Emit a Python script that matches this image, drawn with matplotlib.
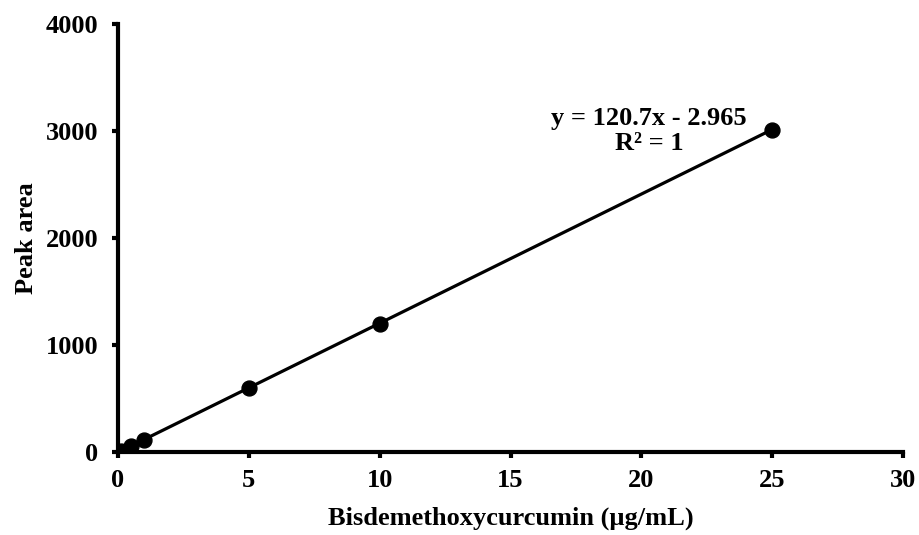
import numpy as np
import matplotlib.pyplot as plt

plt.rcParams['font.family'] = ['Liberation Serif', 'DejaVu Serif']
plt.rcParams['font.weight'] = 'bold'

conc = [0.1, 0.5, 1, 5, 10, 25]          # ug/mL
area = [10, 57, 116, 600, 1195, 3010]    # peak area
slope, intercept = 120.7, -2.965

fig = plt.figure(figsize=(9.19, 5.35), dpi=100)
ax = fig.add_axes([0.1284, 0.155, 0.8542, 0.800])

xf = np.array([min(conc), max(conc)])
ax.plot(xf, slope * xf + intercept, color='black', lw=2.3, zorder=2)
ax.scatter(conc, area, s=115, color='black', zorder=3)

ax.set_xlim(0, 30)
ax.set_ylim(0, 4000)
ax.set_xticks(range(0, 31, 5))
ax.set_yticks(range(0, 4001, 1000))
for side in ['top', 'right']:
    ax.spines[side].set_visible(False)
for side in ['left', 'bottom']:
    ax.spines[side].set_linewidth(3)
ax.tick_params(direction='out', length=4, width=3, labelsize=19)
ax.tick_params(axis='x', pad=8)
ax.tick_params(axis='y', pad=10)

ax.set_xlabel('Bisdemethoxycurcumin (µg/mL)', fontsize=19, fontweight='bold', labelpad=11)
ax.set_ylabel('Peak area', fontsize=19, fontweight='bold', labelpad=6)

ax.text(0.706, 0.755, 'y = 120.7x - 2.965\nR² = 1', transform=fig.transFigure,
        ha='center', va='center', fontsize=19, fontweight='bold', linespacing=1.1)

fig.savefig('out.png', dpi=100)
